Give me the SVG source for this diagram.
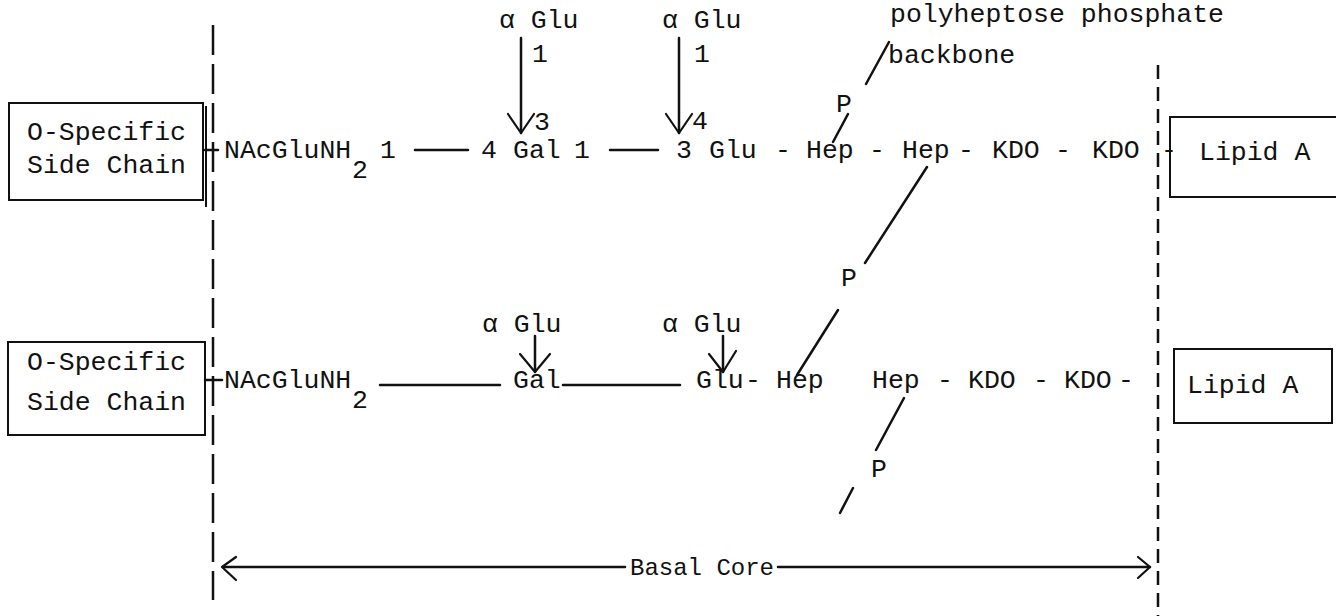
<svg xmlns="http://www.w3.org/2000/svg" width="1336" height="616" viewBox="0 0 1336 616">
<style>
text{font-family:"Liberation Mono","DejaVu Sans Mono",monospace;font-size:26.5px;fill:#111}
.sm{font-size:24px}
.ln{stroke:#111;stroke-width:2.5;fill:none;stroke-linecap:round}
.box{stroke:#111;stroke-width:2;fill:none}
.dash1{stroke:#111;stroke-width:2.5;stroke-dasharray:30 9;fill:none}
.dash2{stroke:#111;stroke-width:2.5;stroke-dasharray:14 8;fill:none}
.ah{stroke:#111;stroke-width:2.2;fill:none;stroke-linecap:round;stroke-linejoin:round}
</style>
<rect width="1336" height="616" fill="#fff"/>

<g id="boundaries">
<line class="dash1" x1="213" y1="25" x2="213" y2="600"/>
<line class="dash2" x1="1158" y1="65" x2="1158" y2="616"/>
</g>

<g id="oside-top">
<rect class="box" x="9" y="103" width="194" height="97"/>
<line class="box" x1="206" y1="106" x2="206" y2="207"/>
<text x="27" y="140">O-Specific</text>
<text x="27" y="173">Side Chain</text>
</g>
<g id="oside-bottom">
<rect class="box" x="8" y="342" width="197" height="93"/>
<text x="27" y="370">O-Specific</text>
<text x="27" y="410">Side Chain</text>
</g>
<g id="lipidA-top">
<path class="box" d="M1336,117 H1170 V197 H1336"/>
<text x="1199" y="160">Lipid A</text>
</g>
<g id="lipidA-bottom">
<rect class="box" x="1174" y="349" width="158" height="74"/>
<text x="1187" y="393">Lipid A</text>
</g>

<g id="row-top">
<text x="224" y="158">NAcGluNH</text><text x="352" y="178">2</text>
<text x="380" y="158">1</text>
<text x="481" y="158">4</text>
<text x="513" y="158">Gal</text>
<text x="574" y="158">1</text>
<text x="676" y="158">3</text>
<text x="709" y="158">Glu</text>
<text x="775" y="158">-</text>
<text x="806" y="158">Hep</text>
<text x="869" y="158">-</text>
<text x="902" y="158">Hep</text>
<text x="958" y="158">-</text>
<text x="992" y="158">KDO</text>
<text x="1055" y="158">-</text>
<text x="1092" y="158">KDO</text>
<text x="1161" y="158">-</text>
</g>
<g id="branch-top-gal">
<text x="499" y="28">α Glu</text>
<text x="532" y="62">1</text>
<text x="534" y="130">3</text>
</g>
<g id="branch-top-glu">
<text x="662" y="28">α Glu</text>
<text x="694" y="62">1</text>
<text x="692" y="129">4</text>
</g>
<g id="phosphate-top">
<text x="836" y="112">P</text>
<text x="890" y="22">polyheptose phosphate</text>
<text x="888" y="63">backbone</text>
</g>
<g id="phosphate-mid">
<text x="841" y="286">P</text>
</g>

<g id="row-bottom">
<text x="224" y="388">NAcGluNH</text><text x="352" y="408">2</text>
<text x="513" y="388">Gal</text>
<text x="696" y="388">Glu</text>
<text x="745" y="388">-</text>
<text x="776" y="388">Hep</text>
<text x="872" y="388">Hep</text>
<text x="937" y="388">-</text>
<text x="968" y="388">KDO</text>
<text x="1033" y="388">-</text>
<text x="1064" y="388">KDO</text>
<text x="1118" y="388">-</text>
</g>
<g id="branch-bottom-gal">
<text x="482" y="332">α Glu</text>
</g>
<g id="branch-bottom-glu">
<text x="662" y="332">α Glu</text>
</g>
<g id="phosphate-bottom">
<text x="871" y="477">P</text>
</g>
<g id="basal-core">
<text class="sm" x="630" y="575">Basal Core</text>
</g>

<g id="connectors">
<line class="ln" x1="205" y1="150" x2="218" y2="150"/>
<line class="ln" x1="415" y1="150" x2="468" y2="150"/>
<line class="ln" x1="610" y1="150" x2="658" y2="150"/>
<line class="ln" x1="521" y1="38" x2="521" y2="133"/>
<path class="ah" d="M508,114 L521,133 L534,114"/>
<line class="ln" x1="679" y1="38" x2="679" y2="133"/>
<path class="ah" d="M666,114 L679,133 L692,114"/>
<line class="ln" x1="866" y1="84" x2="889" y2="42"/>
<line class="ln" x1="848" y1="114" x2="833" y2="142"/>
<line class="ln" x1="927" y1="167" x2="865" y2="263"/>
<line class="ln" x1="838" y1="310" x2="797" y2="375"/>

<line class="ln" x1="205" y1="380" x2="222" y2="380"/>
<line class="ln" x1="380" y1="385" x2="500" y2="385"/>
<line class="ln" x1="563" y1="385" x2="680" y2="385"/>
<line class="ln" x1="535" y1="336" x2="535" y2="372"/>
<path class="ah" d="M520,354 L535,372 L550,354"/>
<line class="ln" x1="723" y1="336" x2="723" y2="372"/>
<path class="ah" d="M709,354 L723,372 L736,351"/>
<line class="ln" x1="904" y1="398" x2="876" y2="450"/>
<line class="ln" x1="853" y1="488" x2="840" y2="513"/>

<line class="ln" x1="223" y1="567" x2="625" y2="567"/>
<line class="ln" x1="778" y1="567" x2="1150" y2="567"/>
<path class="ah" d="M236,557 L222,567 L236,580"/>
<path class="ah" d="M1138,557 L1150,567 L1138,578"/>
</g>
</svg>
